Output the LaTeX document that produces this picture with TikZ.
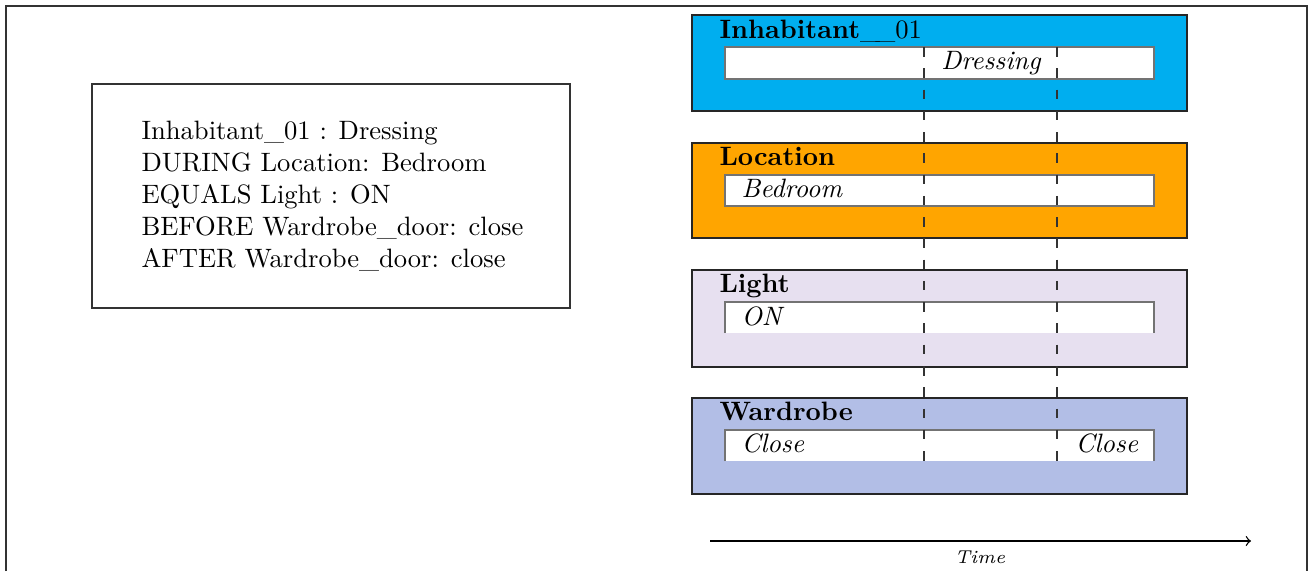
\documentclass[tikz,border=0pt]{standalone}
\definecolor{laneA}{RGB}{0,174,239}
\definecolor{laneB}{RGB}{255,165,0}
\definecolor{laneC}{RGB}{231,224,240}
\definecolor{laneD}{RGB}{178,190,230}
\begin{document}
\begin{tikzpicture}[x=0.3762pt,y=-0.3762pt,
  lane/.style={draw=black!85, line width=0.5pt},
  innerbox/.style={fill=white, draw=black!55, line width=0.5pt},
  ttl/.style={anchor=base west, inner sep=0pt, font=\bfseries},
  lbl/.style={anchor=base west, inner sep=0pt, font=\itshape},
  sep/.style={dash pattern=on 3.6pt off 4.4pt, line width=0.5pt, draw=black!80}]
\useasboundingbox (0,0) rectangle (1309,571);
% outer frame
\draw[line width=0.6pt, black!80] (6,571) -- (6,6) -- (1307,6) -- (1307,571);
% left description box
\draw[line width=0.5pt, black!80] (92,84) rectangle (570,308);
\node[anchor=west, align=left, inner sep=0pt] (desc) at (141,196)
  {Inhabitant\_01 : Dressing\\DURING Location: Bedroom\\EQUALS Light : ON\\BEFORE Wardrobe\_door: close\\AFTER Wardrobe\_door: close};
% lanes
\fill[laneA] (692,15) rectangle (1187,111);
\draw[lane] (692,15) rectangle (1187,111);
\fill[laneB] (692,143) rectangle (1187,238);
\draw[lane] (692,143) rectangle (1187,238);
\fill[laneC] (692,270) rectangle (1187,367);
\draw[lane] (692,270) rectangle (1187,367);
\fill[laneD] (692,398) rectangle (1187,494);
\draw[lane] (692,398) rectangle (1187,494);
% inner boxes
\draw[innerbox] (725,47) rectangle (1154,79);
\draw[innerbox] (725,175) rectangle (1154,206);
\fill[white] (725,302) rectangle (1154,333);
\draw[line width=0.5pt, black!55] (725,333) -- (725,302) -- (1154,302) -- (1154,333);
\fill[white] (725,430) rectangle (1154,461);
\draw[line width=0.5pt, black!55] (725,461) -- (725,430) -- (1154,430) -- (1154,461);
% titles
\node[ttl] (tA) at (719,39) {Inhabitant\mdseries\_\kern-1.8pt\_01};
\node[ttl] (tB) at (719,165) {Location};
\node[ttl] (tC) at (719,292) {Light};
\node[ttl] (tD) at (719,420) {Wardrobe};
% dashed separators
\coordinate (s1t) at (924,47);
\coordinate (s1b) at (924,461);
\coordinate (s2t) at (1057,47);
\coordinate (s2b) at (1057,461);
\draw[sep] (s1t) -- (s1b);
\draw[sep] (s2t) -- (s2b);
% labels
\node[anchor=base, inner sep=0pt, font=\itshape] (lA) at (991,70) {Dressing};
\node[lbl] (lB) at (741,197) {Bedroom};
\node[lbl] (lC) at (741,325) {ON};
\node[lbl] (lD1) at (741,452) {Close};
\node[lbl] (lD2) at (1075,452) {Close};
% time axis
\coordinate (t0) at (710,541);
\coordinate (t1) at (1251,541);
\draw[->, line width=0.5pt] (t0) -- (t1);
\node[anchor=base, inner sep=0pt, font=\scriptsize\itshape] (time) at (980,563) {Time};
\end{tikzpicture}
\end{document}
